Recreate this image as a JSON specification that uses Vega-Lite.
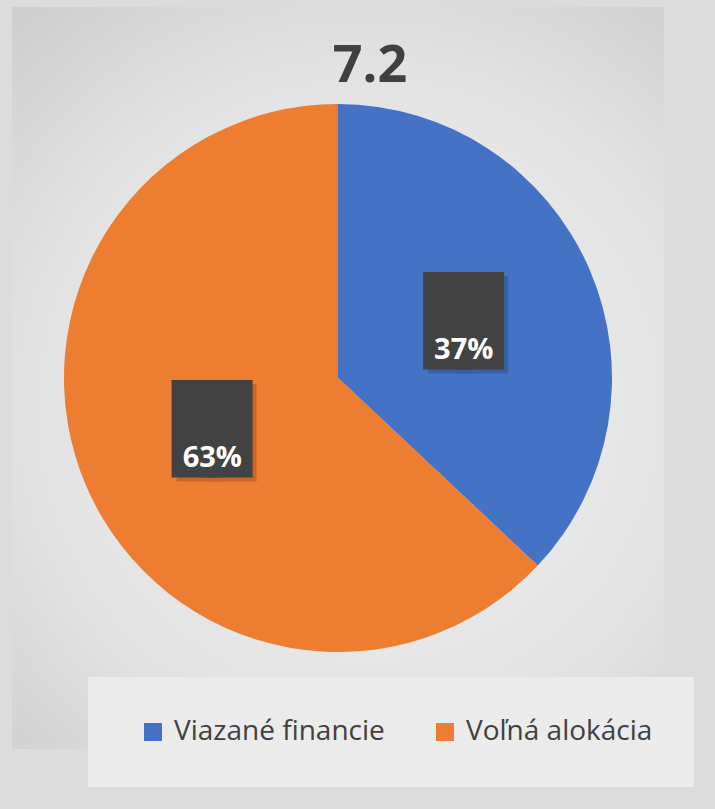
{
  "$schema": "https://vega.github.io/schema/vega-lite/v6.json",
  "width": 652,
  "height": 742,
  "autosize": {"type": "none"},
  "padding": {"left": 12, "top": 7, "right": 51, "bottom": 60},
  "background": "#dbdbdb",
  "title": {
    "text": "7.2",
    "orient": "top",
    "anchor": "middle",
    "offset": -127,
    "baseline": "alphabetic",
    "dx": 32,
    "fontSize": 52,
    "font": "Open Sans",
    "fontWeight": "bold",
    "color": "#404040"
  },
  "view": {
    "stroke": null,
    "fill": {
      "gradient": "radial",
      "x1": 0.54, "y1": 0.54, "r1": 0,
      "x2": 0.54, "y2": 0.54, "r2": 0.76,
      "stops": [
        {"offset": 0, "color": "#f3f3f3"},
        {"offset": 0.6, "color": "#e2e2e2"},
        {"offset": 1, "color": "#cacaca"}
      ]
    }
  },
  "data": {
    "values": [
      {"category": "Viazané financie", "value": 0.37},
      {"category": "Voľná alokácia", "value": 0.63}
    ]
  },
  "encoding": {
    "theta": {"field": "value", "type": "quantitative", "stack": true}
  },
  "layer": [
    {
      "mark": {"type": "arc", "outerRadius": 274},
      "encoding": {
        "color": {
          "field": "category",
          "type": "nominal",
          "scale": {"domain": ["Viazané financie", "Voľná alokácia"], "range": ["#4472C4", "#ED7D31"]},
          "legend": {
            "orient": "none",
            "legendX": 76,
            "legendY": 670,
            "direction": "horizontal",
            "title": null,
            "symbolType": "square",
            "symbolSize": 324,
            "symbolStrokeWidth": 0,
            "symbolOffset": 10,
            "labelFont": "Open Sans",
            "labelFontSize": 28,
            "labelColor": "#404040",
            "labelLimit": 400,
            "fillColor": "#ebebeb",
            "padding": 41,
            "columnPadding": 36,
            "labelOffset": 7
          }
        }
      }
    },
    {
      "mark": {"type": "text", "text": "█", "radius": 137, "font": "DejaVu Sans Mono", "fontSize": 82, "baseline": "middle", "align": "center", "dx": -10, "dy": 4},
      "encoding": {
        "detail": {"field": "category"},
        "fill": {"field": "category", "type": "nominal", "legend": null, "scale": {"domain": ["Viazané financie", "Voľná alokácia"], "range": ["#3660a8", "#c96526"]}}
      }
    },
    {
      "mark": {"type": "text", "text": "█", "radius": 137, "font": "DejaVu Sans Mono", "fontSize": 82, "baseline": "middle", "align": "center", "dx": 19, "dy": 4},
      "encoding": {
        "detail": {"field": "category"},
        "fill": {"field": "category", "type": "nominal", "legend": null, "scale": {"domain": ["Viazané financie", "Voľná alokácia"], "range": ["#3660a8", "#c96526"]}}
      }
    },
    {
      "mark": {"type": "text", "text": "█", "radius": 137, "font": "DejaVu Sans Mono", "fontSize": 82, "baseline": "middle", "align": "center", "dx": -15, "fill": "#424242"},
      "encoding": {"detail": {"field": "category"}}
    },
    {
      "mark": {"type": "text", "text": "█", "radius": 137, "font": "DejaVu Sans Mono", "fontSize": 82, "baseline": "middle", "align": "center", "dx": 15, "fill": "#424242"},
      "encoding": {"detail": {"field": "category"}}
    },
    {
      "mark": {"type": "text", "radius": 137, "font": "Open Sans", "fontWeight": "bold", "fontSize": 29, "fill": "#ffffff", "baseline": "alphabetic", "align": "center", "dy": 35},
      "encoding": {
        "detail": {"field": "category"},
        "text": {"field": "value", "type": "quantitative", "format": ".0%"}
      }
    }
  ]
}
